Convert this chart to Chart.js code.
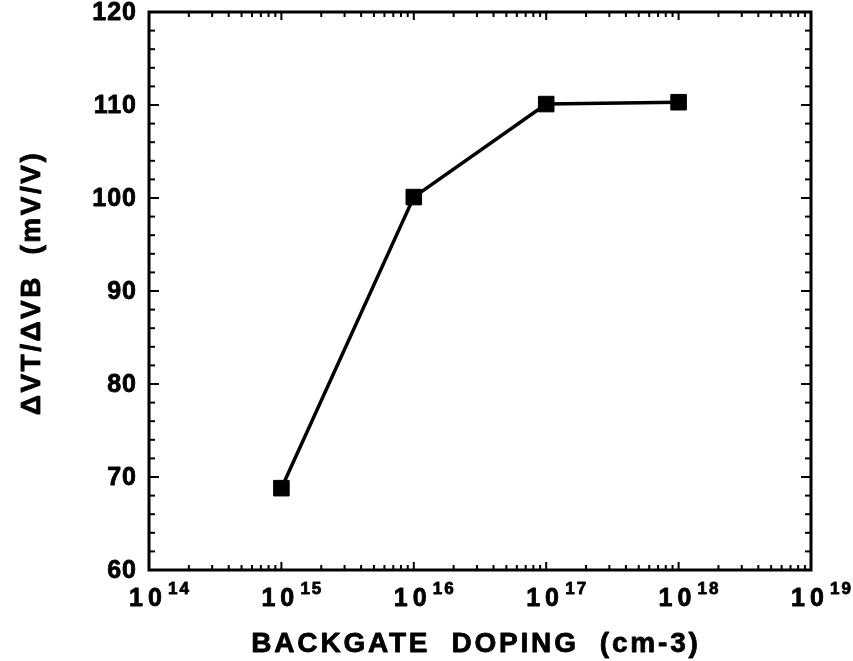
<!DOCTYPE html>
<html>
<head>
<meta charset="utf-8">
<script src="https://cdn.jsdelivr.net/npm/chart.js@4.4.0/dist/chart.umd.min.js"></script>
<style>
  html, body { margin: 0; padding: 0; background: #fff; }
</style>
</head>
<body>
<canvas id="myChart" width="853" height="661"></canvas>
<script>
// Backgate doping (cm-3) and body-effect slope dVT/dVB (mV/V)
const doping = [1e15, 1e16, 1e17, 1e18];
const slope = [68.8, 100.1, 110.1, 110.3];

// Axis labels
const yTicks = [60, 70, 80, 90, 100, 110, 120];
const xExponents = [14, 15, 16, 17, 18, 19];
const xTitle = 'BACKGATE  DOPING  (cm-3)';
const yTitle = 'ΔVT/ΔVB  (mV/V)';

const FONT = '"Liberation Sans", Arial, sans-serif';

// heavy text: fill plus a thin outline
function boldText(ctx, s, x, y) {
  ctx.fillText(s, x, y);
  ctx.strokeText(s, x, y);
}

// Boxed frame with inward ticks on all four sides, plus the labels
const framePlugin = {
  id: 'framePlugin',
  afterDatasetsDraw(chart) {
    const { ctx, chartArea: a, scales: { x, y } } = chart;
    const seg = (x1, y1, x2, y2) => {
      ctx.beginPath(); ctx.moveTo(x1, y1); ctx.lineTo(x2, y2); ctx.stroke();
    };
    ctx.save();
    ctx.strokeStyle = '#000';
    ctx.lineWidth = 2;

    // y ticks: minor every 2, major every 10
    for (let v = 60; v <= 120; v += 2) {
      const py = y.getPixelForValue(v);
      const len = v % 10 === 0 ? 10 : 6;
      seg(a.left, py, a.left + len, py);
      seg(a.right, py, a.right - len, py);
    }
    // x ticks: decades and 2..9 within each decade
    for (let e = 14; e <= 19; e++) {
      for (let m = 1; m <= 9; m++) {
        if (e === 19 && m > 1) break;
        const px = x.getPixelForValue(m * Math.pow(10, e));
        const len = m === 1 ? 8 : 5;
        seg(px, a.bottom, px, a.bottom - len);
        seg(px, a.top, px, a.top + len);
      }
    }

    ctx.lineWidth = 3;
    ctx.strokeRect(a.left, a.top, a.width, a.height);

    ctx.fillStyle = '#000';
    ctx.lineWidth = 0.8;
    ctx.lineJoin = 'round';
    // y tick labels
    ctx.font = 'bold 25px ' + FONT;
    ctx.letterSpacing = '1px';
    ctx.textAlign = 'right';
    ctx.textBaseline = 'middle';
    yTicks.forEach(v => boldText(ctx, String(v), a.left - 12, y.getPixelForValue(v) + 1));

    // x tick labels as 10 with a raised exponent
    ctx.textBaseline = 'alphabetic';
    ctx.textAlign = 'left';
    xExponents.forEach(e => {
      const px = x.getPixelForValue(Math.pow(10, e));
      ctx.font = 'bold 25px ' + FONT;
      ctx.letterSpacing = '5px';
      boldText(ctx, '10', px - 20, a.bottom + 36);
      ctx.font = 'bold 17px ' + FONT;
      ctx.letterSpacing = '2px';
      boldText(ctx, String(e), px + 19, a.bottom + 24);
    });

    // axis titles
    ctx.font = 'bold 28px ' + FONT;
    ctx.letterSpacing = '2.8px';
    ctx.textAlign = 'center';
    boldText(ctx, xTitle, (a.left + a.right) / 2 - 4, 652);

    ctx.save();
    ctx.translate(40, 283);
    ctx.rotate(-Math.PI / 2);
    ctx.letterSpacing = '2.5px';
    boldText(ctx, yTitle, 0, 0);
    ctx.restore();

    ctx.restore();
  }
};

const ctx = document.getElementById('myChart').getContext('2d');
new Chart(ctx, {
  type: 'line',
  data: {
    datasets: [{
      label: 'dVT/dVB',
      data: doping.map((d, i) => ({ x: d, y: slope[i] })),
      borderColor: '#000',
      borderWidth: 3.5,
      backgroundColor: '#000',
      pointStyle: 'rect',
      pointRadius: 11,
      pointBackgroundColor: '#000',
      pointBorderColor: '#000',
      pointBorderWidth: 1,
      tension: 0,
      clip: false
    }]
  },
  options: {
    responsive: false,
    animation: false,
    devicePixelRatio: 1,
    layout: { padding: { left: 149, right: 42, top: 12, bottom: 91 } },
    plugins: { legend: { display: false }, tooltip: { enabled: false } },
    scales: {
      x: { type: 'logarithmic', min: 1e14, max: 1e19, display: false },
      y: { type: 'linear', min: 60, max: 120, display: false }
    }
  },
  plugins: [framePlugin]
});
</script>
</body>
</html>
